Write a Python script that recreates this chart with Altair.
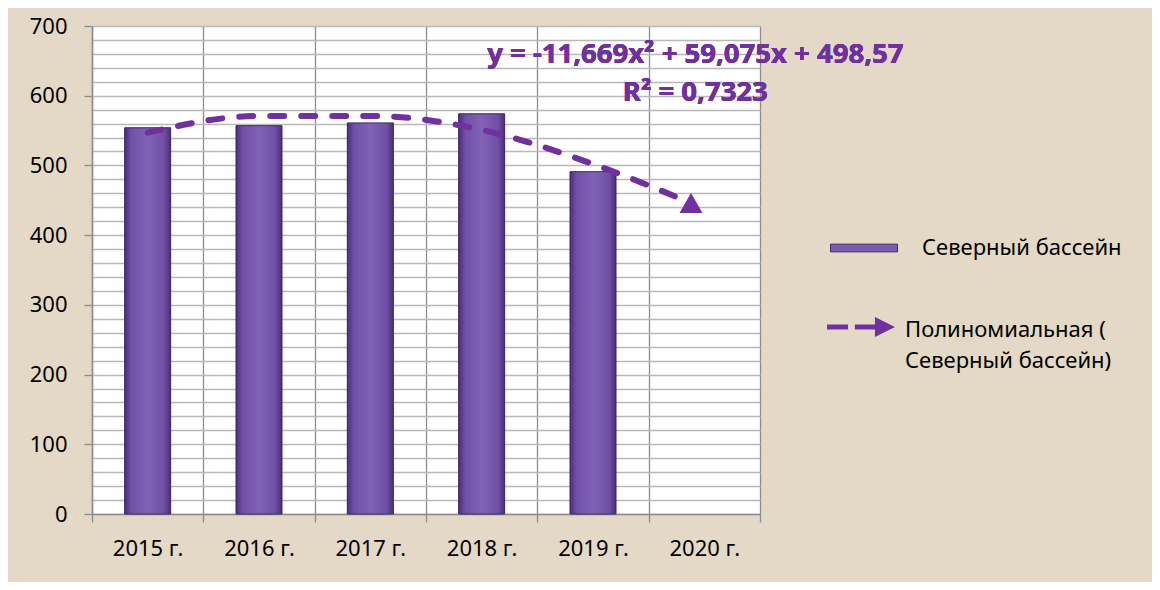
import altair as alt
import pandas as pd

# ---- data ----
years = ["2015", "2016", "2017", "2018", "2019", "2020"]
bar_values = [554, 557, 561, 574, 491]           # 2020 has no bar
trend_x = [1, 2, 3, 4, 5, 5.88]                  # positions along the category index
trend_values = [547, 571, 571, 551, 502, 446]
series_name = "Северный бассейн"
trend_name = "Полиномиальная ( Северный бассейн)"
equation = "y = -11,669x² + 59,075x + 498,57"
r_squared = "R² = 0,7323"

FONT = "Noto Sans"
PURPLE = "#7030a0"

bars = pd.DataFrame({
    "idx": list(range(1, len(bar_values) + 1)),
    "value": bar_values,
    "series": [series_name] * len(bar_values),
})
trend = pd.DataFrame({"idx": trend_x, "value": trend_values, "trend": [trend_name] * len(trend_x)})
arrow = trend.tail(1)

year_labels = "[" + ",".join("'%s г.'" % y for y in years) + "]"

x_axis = alt.Axis(
    values=[i / 2 for i in range(1, 14)],
    labelExpr=f"datum.value % 1 === 0 ? {year_labels}[datum.value - 1] : ''",
    labelOverlap=False,
    labelFlush=False,
    grid=True,
    gridColor={"condition": {"test": "datum.value % 1 !== 0", "value": "#8c8c8c"}, "value": "transparent"},
    gridWidth=1.3,
    tickColor={"condition": {"test": "datum.value % 1 !== 0", "value": "#8c8c8c"}, "value": "transparent"},
    tickSize=8,
    tickWidth=1.3,
    domainColor="#8c8c8c",
    domainWidth=1.5,
    labelPadding=16,
    labelFont=FONT,
    labelFontSize=22,
    labelColor="black",
    title=None,
)
y_axis = alt.Axis(
    values=list(range(0, 701, 20)),
    labelExpr="datum.value % 100 === 0 ? datum.label : ''",
    labelOverlap=False,
    labelFlush=False,
    grid=True,
    gridColor="#b8b8b8",
    gridWidth=1.3,
    tickColor={"condition": {"test": "datum.value % 100 === 0", "value": "#8c8c8c"}, "value": "transparent"},
    tickSize=8,
    tickWidth=1.3,
    domainColor="#8c8c8c",
    domainWidth=1.5,
    labelPadding=17,
    labelFont=FONT,
    labelFontSize=22,
    labelColor="black",
    title=None,
)

x_scale = alt.Scale(domain=[0.5, 6.5], nice=False, zero=False, padding=0)
y_scale = alt.Scale(domain=[0, 700], nice=False, padding=0)
x_enc = alt.X("idx:Q", scale=x_scale, axis=x_axis)
y_enc = alt.Y("value:Q", scale=y_scale, axis=y_axis)

bar_gradient = alt.Gradient(
    gradient="linear",
    stops=[
        alt.GradientStop(color="#4a2f7a", offset=0),
        alt.GradientStop(color="#7252a8", offset=0.15),
        alt.GradientStop(color="#8062b6", offset=0.5),
        alt.GradientStop(color="#7050a6", offset=0.85),
        alt.GradientStop(color="#4a2f7a", offset=1),
    ],
    x1=0, x2=1, y1=0, y2=0,
)

bar_legend_layer = alt.Chart(bars).mark_bar(size=46).encode(
    x=x_enc,
    y=y_enc,
    fill=alt.Fill(
        "series:N",
        scale=alt.Scale(range=["#7b5bb0"]),
        legend=alt.Legend(
            title=None,
            orient="none",
            legendX=738,
            legendY=188,
            padding=0,
            symbolType="M-1,-0.115H1V0.115H-1Z",
            symbolSize=4489,
            symbolStrokeColor="#3e2766",
            symbolStrokeWidth=1,
            labelOffset=24,
            labelFont=FONT,
            labelFontSize=22,
            labelColor="black",
            labelLimit=400,
        ),
    ),
)

bar_layer = alt.Chart(bars).mark_bar(
    size=46, fill=bar_gradient, stroke="#3e2766", strokeWidth=1
).encode(x=x_enc, y=y_enc)

line_layer = alt.Chart(trend).mark_line(
    strokeDash=[14, 17], strokeWidth=6, strokeCap="round", interpolate="monotone"
).encode(
    x=x_enc,
    y=y_enc,
    stroke=alt.Stroke(
        "trend:N",
        scale=alt.Scale(range=[PURPLE]),
        legend=alt.Legend(
            title=None,
            orient="none",
            legendX=735,
            legendY=260,
            padding=0,
            symbolType=(
                "M-1,0.13H-0.38V0.28H-1Z "
                "M-0.18,0.13H0.42V0.28H-0.18Z "
                "M0.41,-0.09L1,0.205L0.41,0.5Z"
            ),
            symbolSize=4624,
            symbolStrokeWidth=0,
            symbolFillColor=PURPLE,
            labelOffset=10,
            labelBaseline="top",
            labelFont=FONT,
            labelFontSize=22,
            labelColor="black",
            labelLimit=400,
            labelExpr="[slice(datum.label, 0, 16), slice(datum.label, 17)]",
        ),
    ),
)

arrow_layer = alt.Chart(arrow).mark_point(
    shape="triangle-up", filled=True, size=529, color=PURPLE, opacity=1
).encode(x=x_enc, y=y_enc)

eq_layer = alt.Chart(bars).mark_text(
    font=FONT, fontSize=27.5, fontWeight="bold", color=PURPLE, align="center", baseline="middle", dx=-9
).encode(
    x=alt.XDatum(6, scale=x_scale, axis=x_axis),
    y=alt.YDatum(658, scale=y_scale, axis=y_axis),
    text=alt.value(equation),
)

r2_layer = alt.Chart(bars).mark_text(
    font=FONT, fontSize=27.5, fontWeight="bold", color=PURPLE, align="center", baseline="middle", dx=-9
).encode(
    x=alt.XDatum(6, scale=x_scale, axis=x_axis),
    y=alt.YDatum(604, scale=y_scale, axis=y_axis),
    text=alt.value(r_squared),
)

chart = (
    alt.layer(bar_legend_layer, bar_layer, line_layer, arrow_layer, eq_layer, r2_layer)
    .resolve_legend(fill="independent", stroke="independent")
    .properties(
        width=668,
        height=488,
        background="#e3d9c6",
        padding={"left": 84, "top": 18, "right": 392, "bottom": 68},
        autosize=alt.AutoSizeParams(type="none"),
    )
    .configure(style={"guide-label": {"lineHeight": 31}})
    .configure_view(fill="white", stroke=None)
)

chart.save("out.html", embed_options={"renderer": "svg", "actions": False})
